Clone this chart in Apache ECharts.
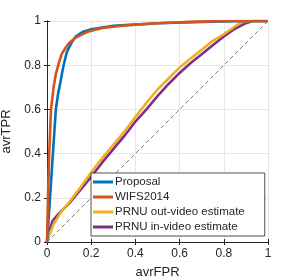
<!DOCTYPE html>
<html><head><meta charset="utf-8">
<script src="https://cdn.jsdelivr.net/npm/echarts@6/dist/echarts.min.js"></script>
<style>html,body{margin:0;padding:0;background:#fff}#c{width:293px;height:280px}</style>
</head><body><div id="c"></div>
<script>
const seriesNames = ['Proposal', 'WIFS2014', 'PRNU out-video estimate', 'PRNU in-video estimate'];
const colors = ['#0072BD', '#D95319', '#EDB120', '#7E2F8E'];
const proposal = [[0,0],[0.015,0.22],[0.03,0.45],[0.04,0.6],[0.05,0.67],[0.06,0.72],[0.075,0.8],[0.09,0.86],[0.11,0.9],[0.13,0.93],[0.16,0.95],[0.2,0.963],[0.3,0.978],[0.5,0.99],[0.7,0.996],[0.85,0.999],[1,1]];
const wifs = [[0,0],[0.005,0.22],[0.01,0.4],[0.018,0.6],[0.03,0.7],[0.04,0.76],[0.051,0.8],[0.066,0.85],[0.085,0.88],[0.1,0.9],[0.13,0.925],[0.18,0.95],[0.25,0.968],[0.35,0.98],[0.5,0.99],[0.65,0.996],[0.8,1],[1,1]];
const prnuOut = [[0,0],[0.01,0.03],[0.03,0.08],[0.06,0.13],[0.1,0.18],[0.15,0.245],[0.2,0.315],[0.25,0.38],[0.3,0.44],[0.35,0.5],[0.4,0.565],[0.45,0.63],[0.5,0.69],[0.55,0.74],[0.6,0.79],[0.65,0.83],[0.7,0.87],[0.75,0.91],[0.8,0.94],[0.85,0.975],[0.88,0.995],[0.92,1],[1,1]];
const prnuIn = [[0,0],[0.01,0.05],[0.025,0.095],[0.05,0.125],[0.1,0.175],[0.15,0.235],[0.2,0.295],[0.25,0.36],[0.3,0.42],[0.35,0.48],[0.4,0.545],[0.45,0.6],[0.5,0.66],[0.55,0.715],[0.6,0.765],[0.65,0.81],[0.7,0.85],[0.75,0.89],[0.8,0.93],[0.85,0.965],[0.9,0.99],[0.93,1],[1,1]];
const chance = [[0,0],[1,1]];
const xLabel = 'avrFPR', yLabel = 'avrTPR';

const chart = echarts.init(document.getElementById('c'), null, {renderer:'canvas'});
const font = 'Liberation Sans, Arial, sans-serif';
const axisCommon = {
  type:'value', min:0, max:1, interval:0.2,
  axisLine:{show:true, lineStyle:{color:'#262626', width:1}},
  axisTick:{show:true, inside:true, length:3, lineStyle:{color:'#262626'}},
  splitLine:{show:true, lineStyle:{color:'#e6e6e6', width:1}},
  axisLabel:{color:'#262626', fontSize:12, fontFamily:font}
};
const mk = (name, data, color) => ({
  name, type:'line', data, showSymbol:false, symbol:'none', smooth:false,
  lineStyle:{color, width:2.6}, itemStyle:{color}, z:3
});
chart.setOption({
  animation:false,
  grid:{left:47, right:25, top:21, bottom:38, show:false, containLabel:false, outerBoundsMode:'none'},
  xAxis:[
    Object.assign({}, axisCommon, {position:'bottom', name:xLabel, nameLocation:'middle', nameGap:24,
      nameTextStyle:{color:'#262626', fontSize:13, fontFamily:font}, axisLabel:Object.assign({}, axisCommon.axisLabel, {margin:6})}),
    Object.assign({}, axisCommon, {position:'top', axisLabel:{show:false}, splitLine:{show:false}})
  ],
  yAxis:[
    Object.assign({}, axisCommon, {position:'left', name:yLabel, nameLocation:'middle', nameGap:23,
      nameTextStyle:{color:'#262626', fontSize:13, fontFamily:font}, axisLabel:Object.assign({}, axisCommon.axisLabel, {margin:6})}),
    Object.assign({}, axisCommon, {position:'right', axisLabel:{show:false}, splitLine:{show:false}})
  ],
  legend:{
    orient:'vertical', left:91, top:173,
    data:seriesNames,
    backgroundColor:'#fff', borderColor:'#262626', borderWidth:0.8, borderRadius:0,
    padding:[3,20,3,2], itemGap:3, itemWidth:20, itemHeight:12,
    textStyle:{color:'#262626', fontSize:11.5, fontFamily:font, padding:[0,0,0,-3]},
    icon:'path://M0,4.5 L20,4.5 L20,7.5 L0,7.5 Z'
  },
  series:[
    {name:'chance', type:'line', data:chance, showSymbol:false, symbol:'none',
     lineStyle:{color:'#555', width:0.8, type:[4,3]}, z:2, silent:true},
    mk(seriesNames[3], prnuIn, colors[3]),
    mk(seriesNames[2], prnuOut, colors[2]),
    mk(seriesNames[0], proposal, colors[0]),
    mk(seriesNames[1], wifs, colors[1])
  ]
});
</script></body></html>
